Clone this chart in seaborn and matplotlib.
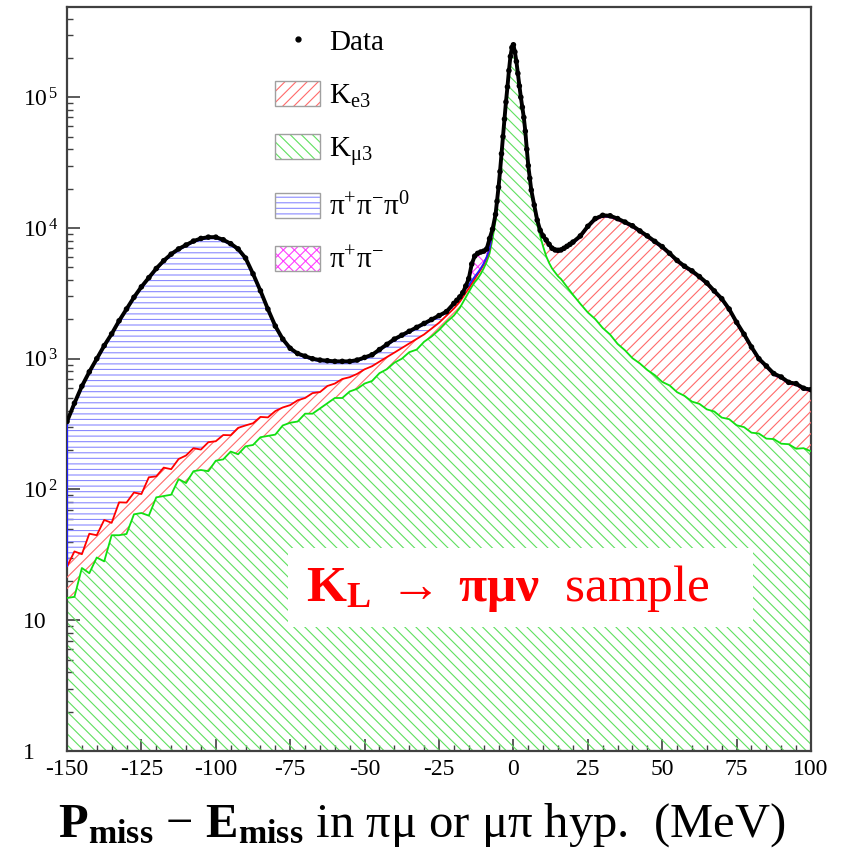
import math
import matplotlib
matplotlib.use("Agg")
import matplotlib.pyplot as plt
import pandas as pd
import seaborn as sns
from matplotlib.patches import Patch, Rectangle
from matplotlib.lines import Line2D
from matplotlib.legend_handler import HandlerTuple
from matplotlib.ticker import MultipleLocator, LogLocator, FuncFormatter, NullFormatter

# ---- histogram content (bin centres in MeV, stacked boundaries in events) ----
x_mev = [-150, -147.5, -145, -142.5, -140, -137.5, -135, -132.5, -130, -127.5, -125, -122.5, -120,
         -117.5, -115, -112.5, -110, -107.5, -105, -102.5, -100, -97.5, -95, -92.5, -90, -87.5,
         -85, -82.5, -80, -77.5, -75, -72.5, -70, -67.5, -65, -62.5, -60, -57.5, -55, -52.5,
         -50, -47.5, -45, -42.5, -40, -37.5, -35, -32.5, -30, -27.5, -25, -22.5,
         -20, -19, -18, -17, -16, -15, -14, -13, -12, -11, -10, -9, -8, -7, -6,
         -5.5, -5, -4.5, -4, -3.5, -3, -2.5, -2, -1.5, -1, -0.5, 0, 0.5, 1, 1.5, 2, 2.5, 3,
         3.5, 4, 4.5, 5, 5.5,
         6, 7, 8, 9, 10, 11, 12, 13, 14, 15, 16, 17, 18, 19, 20,
         22.5, 25, 27.5, 30, 32.5, 35, 37.5, 40, 42.5, 45, 47.5, 50, 52.5, 55, 57.5, 60,
         62.5, 65, 67.5, 70, 72.5, 75, 77.5, 80, 82.5, 85, 87.5, 90, 92.5, 95, 97.5, 100]

data = [331, 457, 617, 794, 1000, 1259, 1549, 1950, 2399, 2951, 3548, 4169, 4898,
        5623, 6310, 6918, 7413, 7943, 8318, 8511, 8511, 8128, 7586, 6918, 5888, 4467,
        3311, 2399, 1778, 1413, 1202, 1096, 1047, 1000, 977, 966, 955, 955, 955, 977,
        1023, 1072, 1175, 1288, 1413, 1514, 1622, 1738, 1862, 1995, 2138, 2291,
        2650, 2800, 2970, 3200, 3600, 4100, 5300, 6100, 6400, 6550, 6650, 6900, 8300, 9800, 12700,
        16000, 20500, 27000, 37000, 50000, 68000, 92000, 120000, 160000, 205000, 240000, 252000,
        222000, 188000, 152000, 122000, 100000, 84000, 70000, 55000, 40000, 30000, 24000,
        19500, 15000, 11500, 9600, 8700, 8100, 7500, 7000, 6800, 6750, 6800, 7000, 7250, 7500, 7800,
        8700, 10300, 11800, 12500, 12400, 11800, 11100, 10400, 9500, 8700, 7900, 7200, 6400, 5650,
        5100, 4700, 4250, 3800, 3300, 2880, 2400, 1900, 1540, 1230, 1000, 880, 770, 725, 660, 645,
        595, 580]

# K_mu3 (bottom of the stack)
kmu3_top = [14.8, 15.1, 25.1, 22.9, 30.2, 28.2, 44.7, 44.7, 45.7, 64.6, 66.1, 63.1, 87.1,
            89.1, 91.2, 120, 112, 138, 141, 138, 166, 170, 195, 186, 214, 219,
            251, 257, 263, 309, 324, 331, 380, 380, 417, 457, 501, 501, 562, 589,
            646, 676, 776, 832, 933, 1000, 1122, 1175, 1349, 1479, 1660, 1905,
            2140, 2290, 2450, 2690, 2950, 3240, 3550, 3850, 4100, 4450, 4900, 5500, 6400, 8300, 11400,
            14900, 19300, 25600, 35100, 48000, 65300, 88300, 116400, 155200, 198900, 232800, 244400,
            215300, 182400, 147400, 117100, 96000, 80600, 67200, 52800, 38400, 28500, 22800,
            18300, 14000, 10600, 8700, 7200, 6100, 5400, 4900, 4570, 4270, 4070, 3800, 3550, 3310, 3090,
            2630, 2260, 2010, 1720, 1530, 1300, 1160, 1010, 920, 820, 750, 665, 625, 555,
            520, 470, 452, 410, 395, 355, 345, 310, 300, 272, 268, 245, 243, 224, 222, 205,
            207, 196]

# K_mu3 + K_e3
ke3_top = [25.7, 33.6, 32.0, 45.9, 44.7, 58.5, 55.6, 79.8, 79.4, 94.8, 92.3, 124, 126,
           147, 143, 171, 182, 207, 202, 230, 234, 261, 260, 296, 309, 321,
           359, 356, 398, 424, 442, 481, 501, 546, 556, 619, 646, 700, 723, 766,
           830, 877, 951, 1030, 1114, 1208, 1309, 1416, 1535, 1702, 1884, 2138,
           2420, 2570, 2730, 2950, 3200, 3450, 3770, 4080, 4400, 4780, 5250, 5900, 6850, 9300, 12300,
           15800, 20200, 26600, 36400, 49300, 67000, 90600, 118200, 157600, 201900, 236400, 248200,
           218700, 185200, 149700, 120200, 98500, 82700, 68900, 54200, 39400, 29500, 23600,
           19000, 14600, 11200, 9350, 8480, 7900, 7310, 6830, 6630, 6580, 6630, 6830, 7070, 7310, 7600,
           8480, 10040, 11500, 12190, 12090, 11500, 10820, 10140, 9260, 8480, 7700, 7020, 6240, 5510,
           4970, 4580, 4140, 3700, 3220, 2810, 2340, 1850, 1500, 1200, 975, 858, 750, 707, 644, 629,
           580, 565]

# K_mu3 + K_e3 + pi+pi-pi0
pi3_top = [324, 448, 605, 778, 980, 1234, 1518, 1911, 2351, 2892, 3477, 4086, 4800,
           5511, 6184, 6780, 7265, 7784, 8152, 8341, 8341, 7965, 7434, 6780, 5770, 4378,
           3245, 2351, 1742, 1385, 1178, 1074, 1026, 980, 957, 947, 936, 936, 936, 957,
           1003, 1051, 1152, 1262, 1385, 1484, 1590, 1703, 1825, 1955, 2095, 2245,
           2600, 2750, 2910, 3110, 3420, 3640, 3950, 4250, 4550, 4900, 5350, 6000, 6950, 9400, 12400,
           15850, 20300, 26700, 36600, 49500, 67300, 91000, 118800, 158400, 202900, 237600, 249500,
           219800, 186100, 150500, 120800, 99000, 83200, 69300, 54500, 39600, 29700, 23760,
           19050, 14650, 11230, 9380, 8500, 7920, 7330, 6850, 6650, 6600, 6650, 6850, 7090, 7330, 7620,
           8520, 10090, 11560, 12250, 12150, 11560, 10870, 10190, 9300, 8520, 7740, 7050, 6270, 5540,
           5000, 4600, 4160, 3720, 3240, 2820, 2350, 1860, 1510, 1205, 980, 862, 754, 710, 647, 632,
           583, 568]

# full simulation (all components including pi+pi-) follows the data
pipi_top = data

legend_labels = ["Data", r"K$_{\mathrm{e3}}$", r"K$_{\mathrm{μ3}}$",
                 r"$\mathrm{π^{+}π^{-}π^{0}}$", r"$\mathrm{π^{+}π^{-}}$"]
xtick_step = 25

df = pd.DataFrame({"x": x_mev, "data": data, "kmu3": kmu3_top, "ke3": ke3_top,
                   "pi3": pi3_top, "pipi": pipi_top})

# ---- style ----
sns.set_theme(style="ticks")
plt.rcParams["font.family"] = ["Liberation Serif", "DejaVu Serif"]
plt.rcParams["mathtext.fontset"] = "custom"
plt.rcParams["mathtext.rm"] = "Liberation Serif"
plt.rcParams["mathtext.it"] = "Liberation Serif:italic"
plt.rcParams["mathtext.bf"] = "Liberation Serif:bold"
plt.rcParams["hatch.linewidth"] = 0.8
plt.rcParams["text.color"] = "black"
plt.rcParams["axes.labelcolor"] = "black"

fig = plt.figure(figsize=(8.45, 8.63), dpi=100)
ax = fig.add_axes([67 / 845, 1 - 751 / 863, 744 / 845, 744 / 863])
ax.set_yscale("log")
ax.set_xlim(-150, 100)
ax.set_ylim(1, 4.9e5)

base = ax.get_ylim()[0]
layers = [
    # (lower, upper, hatch, hatch colour, line colour)
    (None, "kmu3", "\\\\\\", "#5fe05f", "#11e011"),
    ("kmu3", "ke3", "///", "#ff6a6a", "#ff0000"),
    ("ke3", "pi3", "---", "#8a8aff", "#2020ff"),
    ("pi3", "pipi", "xxx", "#ff40ff", "#ff00ff"),
]
for i, (lo, hi, hatch, hcol, lcol) in enumerate(layers):
    lower = base if lo is None else df[lo]
    ax.fill_between(df["x"], lower, df[hi], facecolor="none", edgecolor=hcol,
                    hatch=hatch, linewidth=0, zorder=2 + i)

for i, (lo, hi, hatch, hcol, lcol) in enumerate(layers):
    sns.lineplot(data=df, x="x", y=hi, color=lcol, lw=1.3, sort=False,
                 estimator=None, ax=ax, zorder=6 + i)
# left edge of the three-pion histogram
ax.vlines(df["x"].iloc[0], df["ke3"].iloc[0], df["pi3"].iloc[0], color="#2020ff", lw=1.5, zorder=7)

# data points
sns.lineplot(data=df, x="x", y="data", color="black", lw=2.8, sort=False,
             estimator=None, ax=ax, zorder=12)
sns.scatterplot(data=df, x="x", y="data", color="black", s=16, edgecolor="none",
                ax=ax, zorder=13)

# ---- axes ----
for side in ["top", "right", "bottom", "left"]:
    ax.spines[side].set_color("#404040")
    ax.spines[side].set_linewidth(1.6)
    ax.spines[side].set_visible(True)
ax.xaxis.set_major_locator(MultipleLocator(xtick_step))
ax.xaxis.set_minor_locator(MultipleLocator(5))
ax.yaxis.set_major_locator(LogLocator(base=10))
ax.yaxis.set_minor_locator(LogLocator(base=10, subs=range(2, 10)))
ax.yaxis.set_minor_formatter(NullFormatter())


def ylab(v, pos):
    e = int(round(math.log10(v)))
    if e == 0:
        return "1"
    if e == 1:
        return "10"
    return r"10$^{\,%d}$" % e


ax.yaxis.set_major_formatter(FuncFormatter(ylab))
ax.xaxis.set_major_formatter(FuncFormatter(lambda v, p: "%d" % v))
ax.tick_params(which="both", direction="in", color="#404040", top=False, right=False,
               labelsize=17, labelcolor="black")
ax.tick_params(which="major", length=9, width=1.2)
ax.tick_params(which="minor", length=4.5, width=1.0)
ax.tick_params(axis="x", which="major", pad=6)
ax.tick_params(axis="y", which="major", pad=32)
fig.canvas.draw()
for lab in ax.get_yticklabels():
    lab.set_horizontalalignment("left")

ax.set_xlabel(r"$\mathbf{P_{miss}}$ $-$ $\mathbf{E_{miss}}$ in πμ or μπ hyp.  (MeV)",
              fontsize=35, color="black")
ax.xaxis.set_label_coords((422 - 67) / 744, -0.068)
ax.xaxis.label.set_verticalalignment("top")
ax.set_ylabel("")

# ---- sample label ----
ax.add_patch(Rectangle((0.297, 0.167), 0.625, 0.106, transform=ax.transAxes,
                       facecolor="white", edgecolor="none", zorder=20))
ax.text(0.593, 0.218, r"$\mathbf{K_L}\;\rightarrow\;\mathbf{πμν}$  sample",
        transform=ax.transAxes, ha="center", va="center", color="#ff0000",
        fontsize=37, zorder=21)

# ---- legend ----
hatch_handles = []
for (lo, hi, hatch, hcol, lcol) in [layers[1], layers[0], layers[2], layers[3]]:
    filled = Patch(facecolor="white", edgecolor=hcol, hatch=hatch, linewidth=0)
    border = Patch(facecolor="none", edgecolor="#a0a0a0", linewidth=1.0)
    hatch_handles.append((filled, border))
handles = [Line2D([], [], color="black", marker=".", ls="none", markersize=7)] + hatch_handles
leg = ax.legend(handles, legend_labels, handler_map={tuple: HandlerTuple(ndivide=1, pad=0)},
                loc="upper left", bbox_to_anchor=(0.2796, 0.972), frameon=False,
                fontsize=21, handlelength=1.55, handleheight=0.93, labelspacing=0.85,
                handletextpad=0.3, borderpad=0, borderaxespad=0)
leg.set_zorder(30)

fig.savefig("out.png", dpi=100, facecolor="white")
